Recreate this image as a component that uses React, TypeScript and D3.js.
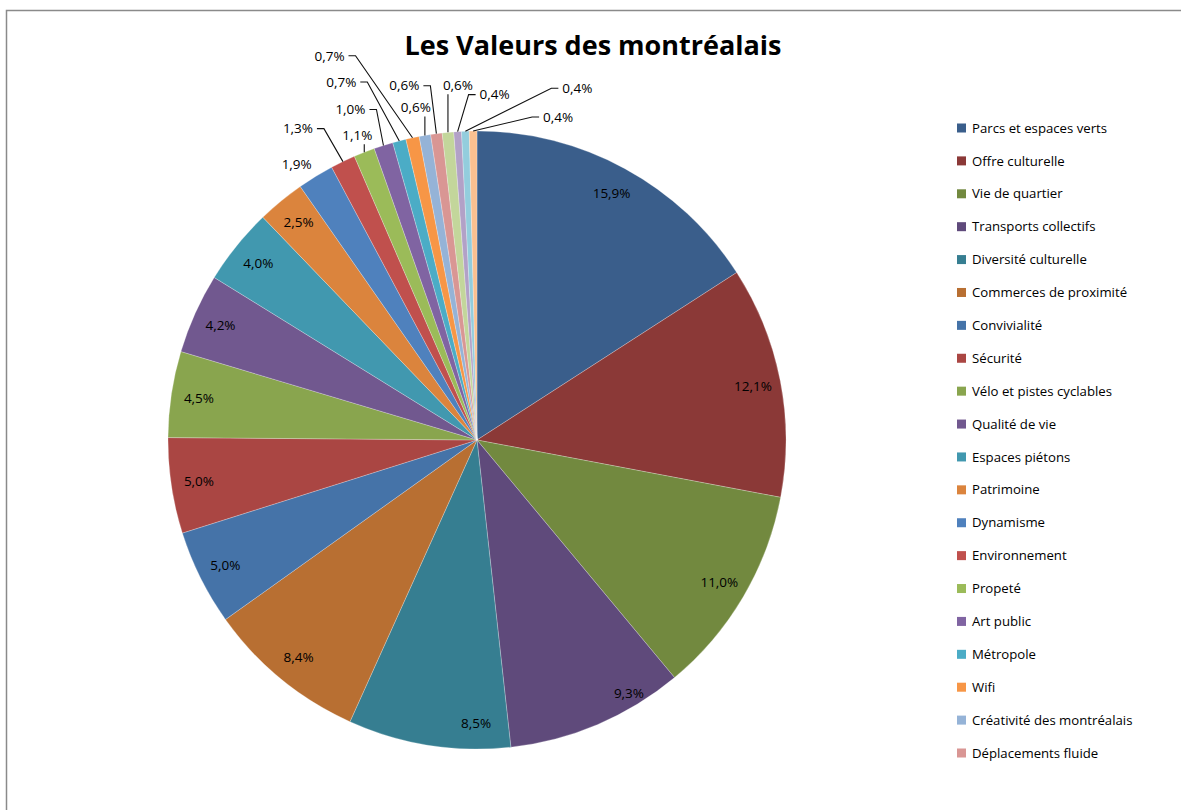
import React from "react";
import * as d3 from "d3";

const title = "Les Valeurs des montréalais";

const categories = [
  "Parcs et espaces verts",
  "Offre culturelle",
  "Vie de quartier",
  "Transports collectifs",
  "Diversité culturelle",
  "Commerces de proximité",
  "Convivialité",
  "Sécurité",
  "Vélo et pistes cyclables",
  "Qualité de vie",
  "Espaces piétons",
  "Patrimoine",
  "Dynamisme",
  "Environnement",
  "Propeté",
  "Art public",
  "Métropole",
  "Wifi",
  "Créativité des montréalais",
  "Déplacements fluide",
  "Autre 1",
  "Autre 2",
  "Autre 3",
  "Autre 4",
];

const values = [
  15.9, 12.1, 11.0, 9.3, 8.5, 8.4, 5.0, 5.0, 4.5, 4.2, 4.0, 2.5, 1.9, 1.3, 1.1,
  1.0, 0.7, 0.7, 0.6, 0.6, 0.6, 0.4, 0.4, 0.4,
];

const legendCount = 20;

const colors = [
  "#3A5E8B", "#8B3937", "#72893F", "#5F4A7B", "#367E91", "#B86F32",
  "#4573A8", "#AA4643", "#89A54E", "#71588F", "#4198AF", "#DB843D",
  "#4F81BD", "#C0504D", "#9BBB59", "#8064A2", "#4BACC6", "#F79646",
  "#95B3D7", "#D99694", "#C3D69B", "#B2A1C7", "#93CDDD", "#FAC090",
];

// layout: first index using outside labels, and their offsets from the slice edge
const firstOutside = 12;
const outsideOffsets: [number, number][] = [
  [-19, -12], [-45, -33], [-7, -17], [-33, -36], [-58, -59], [-83, -82],
  [-9, -28], [-32, -48], [10, -47], [37, -37], [112, -43], [85, -14],
];
const insideNudge: Record<number, [number, number]> = { 3: [42, -6], 4: [43, 6] };

export default function App() {
  const W = 1181, H = 810;
  const cx = 477, cy = 440, R = 309;
  const font = "'Open Sans', 'Noto Sans', sans-serif";

  const arcs = d3.pie<number>().sort(null).value((d) => d)(values);
  const arcGen = d3.arc<d3.PieArcDatum<number>>().innerRadius(0).outerRadius(R);
  const fmt = (v: number) => v.toFixed(1).replace(".", ",") + "%";
  const polar = (a: number, r: number): [number, number] => [
    cx + r * Math.sin(a), cy - r * Math.cos(a),
  ];

  const legendY = d3.scaleLinear().domain([0, legendCount - 1]).range([128, 753]);

  return (
    <svg width={W} height={H} style={{ position: "absolute", left: 0, top: 0, background: "#fff" }}
      fontFamily={font}>
      <rect x={0} y={0} width={W} height={H} fill="#fff" />
      <path d={`M6.5,${H} V10.5 H${W}`} fill="none" stroke="#8a8a8a" strokeWidth={1.5} />
      <text x={593} y={55} textAnchor="middle" fontSize={27} fontWeight="bold" fill="#000">
        {title}
      </text>
      <g transform={`translate(${cx},${cy})`}>
        {arcs.map((a, i) => (
          <path key={i} d={arcGen(a) || ""} fill={colors[i]} stroke="#ffffff" strokeOpacity={0.35} strokeWidth={0.7} />
        ))}
      </g>
      {arcs.map((a, i) => {
        const mid = (a.startAngle + a.endAngle) / 2;
        if (i < firstOutside) {
          let [x, y] = polar(mid, R * 0.91);
          const n = insideNudge[i];
          if (n) { x += n[0]; y += n[1]; }
          return (
            <text key={"l" + i} x={x} y={y} dy="0.35em" textAnchor="middle" fontSize={13.5} fill="#000">
              {fmt(values[i])}
            </text>
          );
        }
        const [ex, ey] = polar(mid, R);
        const off = outsideOffsets[i - firstOutside];
        const lx = ex + off[0], ly = ey + off[1];
        const hw = 18;
        let leader = "";
        if (Math.hypot(off[0], off[1]) > 25) {
          if (ex > lx + hw + 3) {
            leader = `M${ex},${ey} L${lx + hw + 8},${ly} L${lx + hw + 1},${ly}`;
          } else if (ex < lx - hw - 3) {
            leader = `M${ex},${ey} L${lx - hw - 8},${ly} L${lx - hw - 1},${ly}`;
          } else {
            leader = `M${ex},${ey} L${ex},${ly + 9}`;
          }
        } else if (Math.abs(off[0]) < hw) {
          leader = `M${ex},${ey} L${ex},${ly + 9}`;
        }
        return (
          <g key={"o" + i}>
            {leader && <path d={leader} fill="none" stroke="#111" strokeWidth={1.1} />}
            <text x={lx} y={ly} dy="0.35em" textAnchor="middle" fontSize={13.5} fill="#000">
              {fmt(values[i])}
            </text>
          </g>
        );
      })}
      <g>
        {categories.slice(0, legendCount).map((c, i) => (
          <g key={"lg" + i} transform={`translate(957,${legendY(i)})`}>
            <rect x={0} y={-4.5} width={9} height={9} fill={colors[i]} />
            <text x={15} y={0} dy="0.35em" fontSize={13.2} fill="#000">{c}</text>
          </g>
        ))}
      </g>
    </svg>
  );
}
